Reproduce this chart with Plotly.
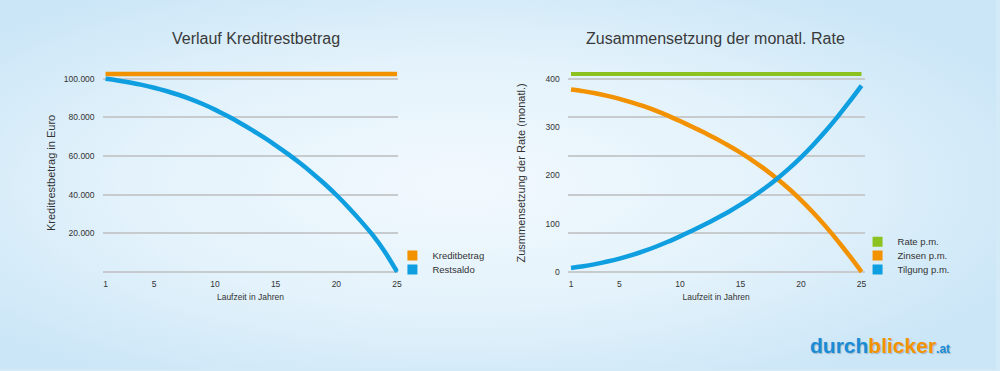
import base64
import plotly.graph_objects as go

# ---------------- data ----------------
years = list(range(1, 26))
x_tickvals = [1, 5, 10, 15, 20, 25]

kreditbetrag = [102500] * 25
restsaldo = [100000, 99150, 98100, 96850, 95400, 93700, 91750, 89500, 86950, 84050,
             80850, 77400, 73700, 69750, 65550, 61100, 56350, 51250, 45750, 39800,
             33350, 26400, 19000, 10300, 0]

rate_pm = [410] * 25
zinsen_pm = [378, 374.5, 370, 364.7, 358.6, 351.4, 343.2, 334, 323.8, 312.6, 300.8,
             288.6, 275.7, 261.9, 246.9, 230.6, 212.9, 193.4, 172.1, 148.6, 123,
             95.2, 65.2, 33.4, 0]
tilgung_pm = [8, 11.5, 16, 21.3, 27.4, 34.6, 42.8, 52, 62.2, 73.4, 85.2, 97.4, 110.3,
              124.1, 139.1, 155.4, 173.1, 192.6, 213.9, 237.4, 263, 290.8, 320.8,
              352.6, 386]

left_ytickvals = [0, 20000, 40000, 60000, 80000, 100000]
left_yticktext = ["", "20.000", "40.000", "60.000", "80.000", "100.000"]
right_ytickvals = [0, 100, 200, 300, 400]
right_ygrid = [0, 80, 160, 240, 320, 400]

# ---------------- style ----------------
ORANGE = "#f39200"
BLUE = "#0f9fe0"
GREEN = "#8cc21f"
GRID = "#c8cbce"
TXT = "#333333"
FONT = "Liberation Sans, Arial, sans-serif"
CURVE = dict(width=4.5, shape="spline", smoothing=0.5)

fig = go.Figure()

# left chart lines
fig.add_trace(go.Scatter(x=years, y=kreditbetrag, mode="lines", name="Kreditbetrag",
                         line=dict(color=ORANGE, width=4.5), showlegend=False,
                         xaxis="x", yaxis="y"))
fig.add_trace(go.Scatter(x=years, y=restsaldo, mode="lines", name="Restsaldo",
                         line=dict(color=BLUE, **CURVE),
                         showlegend=False, xaxis="x", yaxis="y"))
# right chart lines
fig.add_trace(go.Scatter(x=years, y=rate_pm, mode="lines", name="Rate p.m.",
                         line=dict(color=GREEN, width=4), showlegend=False,
                         xaxis="x2", yaxis="y2"))
fig.add_trace(go.Scatter(x=years, y=zinsen_pm, mode="lines", name="Zinsen p.m.",
                         line=dict(color=ORANGE, **CURVE),
                         showlegend=False, xaxis="x2", yaxis="y2"))
fig.add_trace(go.Scatter(x=years, y=tilgung_pm, mode="lines", name="Tilgung p.m.",
                         line=dict(color=BLUE, **CURVE),
                         showlegend=False, xaxis="x2", yaxis="y2"))

# legend entries (square swatches), one legend per entry for exact spacing
legend_items = [
    ("Kreditbetrag", ORANGE, "x", "y", "legend", 0.394, 257),
    ("Restsaldo", BLUE, "x", "y", "legend2", 0.394, 271),
    ("Rate p.m.", GREEN, "x2", "y2", "legend3", 0.861, 243),
    ("Zinsen p.m.", ORANGE, "x2", "y2", "legend4", 0.861, 257),
    ("Tilgung p.m.", BLUE, "x2", "y2", "legend5", 0.861, 271),
]
H = 371.0
legend_layouts = {}
for name, col, xa, ya, leg, lx, ly in legend_items:
    fig.add_trace(go.Scatter(x=[None], y=[None], mode="markers", name=name,
                             marker=dict(symbol="square", size=10, color=col),
                             xaxis=xa, yaxis=ya, legend=leg, showlegend=True,
                             hoverinfo="skip"))
    legend_layouts[leg] = dict(x=lx, y=(H - ly) / H, xanchor="left", yanchor="middle",
                               bgcolor="rgba(0,0,0,0)", borderwidth=0,
                               font=dict(family=FONT, size=9.5, color=TXT),
                               itemwidth=30)

ydom = [(H - 276.2) / H, (H - 71.5) / H]

axis_common = dict(showline=False, zeroline=False, ticks="",
                   tickfont=dict(family=FONT, size=8.5, color=TXT))

layout = dict(
    width=1000, height=371,
    margin=dict(l=0, r=0, t=0, b=0),
    paper_bgcolor="#d3ebf8",
    plot_bgcolor="rgba(0,0,0,0)",
    font=dict(family=FONT, color=TXT),
    xaxis=dict(domain=[0.103, 0.400], range=[0.754, 25.107], type="linear",
               tickvals=x_tickvals, showgrid=False, anchor="y",
               ticklabelstandoff=3,
               title=dict(text="Laufzeit in Jahren", standoff=5,
                          font=dict(family=FONT, size=8.5, color=TXT)),
               **axis_common),
    yaxis=dict(domain=ydom, range=[-1500, 104000], type="linear", anchor="x",
               tickvals=left_ytickvals, ticktext=left_yticktext,
               showgrid=True, gridcolor=GRID, gridwidth=1.5,
               ticklabelstandoff=7,
               title=dict(text="Kreditrestbetrag in Euro", standoff=5,
                          font=dict(family=FONT, size=11, color=TXT)),
               **axis_common),
    xaxis2=dict(domain=[0.570, 0.868], range=[0.728, 25.247], type="linear",
                tickvals=x_tickvals, showgrid=False, anchor="y2",
                ticklabelstandoff=3,
                title=dict(text="Laufzeit in Jahren", standoff=5,
                           font=dict(family=FONT, size=8.5, color=TXT)),
                **axis_common),
    yaxis2=dict(domain=ydom, range=[-6, 416], type="linear", anchor="x2",
                tickvals=right_ytickvals, showgrid=False,
                minor=dict(tickvals=right_ygrid, showgrid=True, gridcolor=GRID,
                           gridwidth=1.5, ticks=""),
                ticklabelstandoff=7,
                title=dict(text="Zusmmensetzung der Rate (monatl.)", standoff=17,
                           font=dict(family=FONT, size=11, color=TXT)),
                **axis_common),
    showlegend=True,
)
layout.update(legend_layouts)

# background: soft radial gradient
svg = ("<svg xmlns='http://www.w3.org/2000/svg' width='1000' height='371' "
       "viewBox='0 0 1000 371' preserveAspectRatio='none'>"
       "<defs><radialGradient id='g' cx='0.46' cy='0.5' r='0.62'>"
       "<stop offset='0' stop-color='#f2f9fe'/>"
       "<stop offset='0.55' stop-color='#e3f2fb'/>"
       "<stop offset='1' stop-color='#cbe6f7'/>"
       "</radialGradient></defs>"
       "<rect width='1000' height='371' fill='url(#g)'/></svg>")
src = "data:image/svg+xml;base64," + base64.b64encode(svg.encode()).decode()
layout["images"] = [dict(source=src, xref="paper", yref="paper", x=0, y=1,
                         sizex=1, sizey=1, xanchor="left", yanchor="top",
                         sizing="stretch", layer="below")]

layout["annotations"] = [
    dict(text="Verlauf Kreditrestbetrag", x=0.2567, y=(H - 39) / H,
         xref="paper", yref="paper", showarrow=False, xanchor="center", yanchor="middle",
         font=dict(family=FONT, size=16, color="#3a3a3a")),
    dict(text="Zusammensetzung der monatl. Rate", x=0.718, y=(H - 39) / H,
         xref="paper", yref="paper", showarrow=False, xanchor="center", yanchor="middle",
         font=dict(family=FONT, size=16, color="#3a3a3a")),
    dict(text="<b><span style='color:#1a8bd6'>durch</span>"
              "<span style='color:#f39200'>blicker</span>"
              "<span style='color:#1a8bd6;font-size:12px'>.at</span></b>",
         x=0.811, y=(H - 347) / H, xref="paper", yref="paper", showarrow=False,
         xanchor="left", yanchor="middle",
         font=dict(family=FONT, size=21, color="#1a8bd6",
                   shadow="1px 1px 1px #9fb8c8")),
]

fig.update_layout(**layout)
fig.write_html("out.html",
               config={"displayModeBar": False},
               post_script="document.body.style.margin='0';"
                           "document.body.style.overflow='hidden';")
